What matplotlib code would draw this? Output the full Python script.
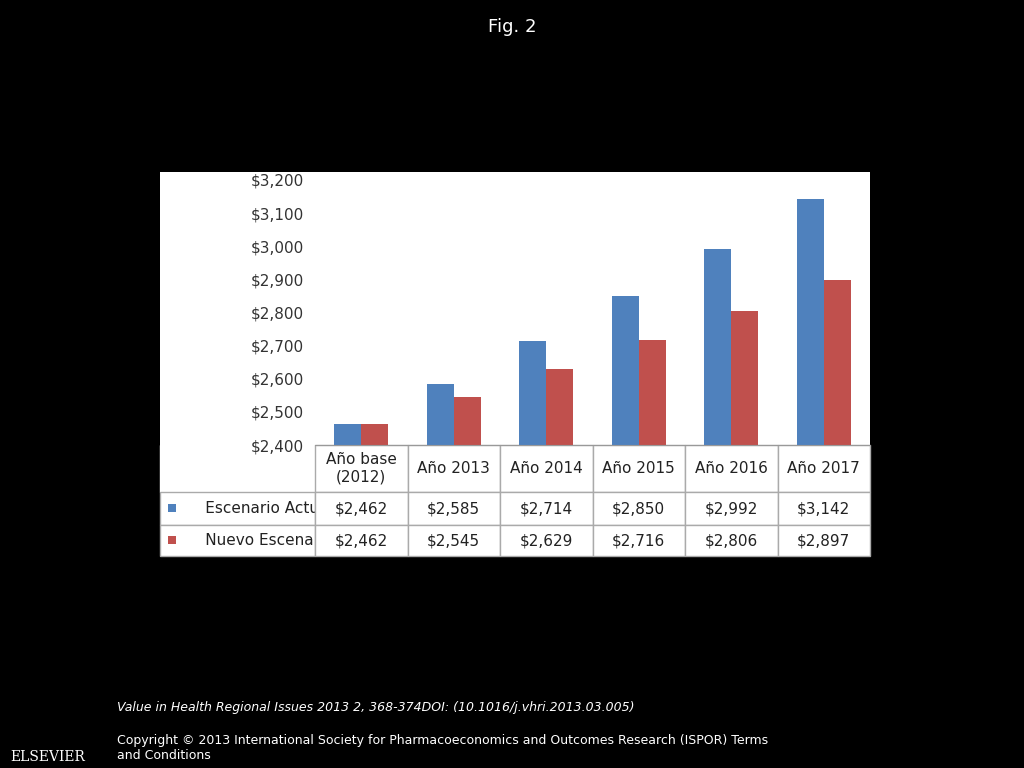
import matplotlib
matplotlib.use("Agg")
import matplotlib.pyplot as plt
from matplotlib.patches import Rectangle
import numpy as np

categories = ["Año base\n(2012)", "Año 2013", "Año 2014", "Año 2015", "Año 2016", "Año 2017"]
actual = [2462, 2585, 2714, 2850, 2992, 3142]
nuevo = [2462, 2545, 2629, 2716, 2806, 2897]
series_names = ["Escenario Actual", "Nuevo Escenario"]
colors = ["#4F81BD", "#C0504D"]

fig = plt.figure(figsize=(10.24, 7.68), dpi=100, facecolor="black")
W, H = 1024, 768
fig.patches.append(Rectangle((160/W, 1-556/H), 710/W, 384/H, transform=fig.transFigure,
                             facecolor="white", edgecolor="none", zorder=-10))
ax = fig.add_axes([315/W, 1-445/H, 555/W, 265/H])
ax.set_zorder(2)
ax.set_facecolor("white")
x = np.arange(len(categories))
w = 0.29
ax.bar(x - w/2, actual, w, color=colors[0])
ax.bar(x + w/2, nuevo, w, color=colors[1])
ax.set_ylim(2400, 3200)
ax.set_xlim(-0.5, len(categories)-0.5)
ax.set_yticks(range(2400, 3201, 100))
ax.set_yticklabels([f"${v:,}" for v in range(2400, 3201, 100)], fontsize=11, color="#333333")
ax.tick_params(axis="y", length=0, pad=8)
ax.set_xticks([])
for s in ["top", "right", "left"]:
    ax.spines[s].set_visible(False)
ax.spines["bottom"].set_color("#999999")

cell = [[f"${v:,}" for v in actual], [f"${v:,}" for v in nuevo]]
header = [[""] + categories]
rows = [["      " + series_names[0]] + cell[0], ["      " + series_names[1]] + cell[1]]
tbl = ax.table(cellText=header + rows, bbox=[-155/555, -111/265, 1+155/555, 111/265],
               cellLoc="center")
tbl.auto_set_font_size(False)
tbl.set_fontsize(11)
heights = [47/111, 33/111, 31/111]
colw = [155/710] + [92.5/710]*6
for (r, c), cl in tbl.get_celld().items():
    cl.set_edgecolor("#AAAAAA")
    cl.set_height(heights[r])
    cl.set_width(colw[c])
    cl.get_text().set_color("#222222")
    if r == 0 and c == 0:
        cl.set_edgecolor("white")
    if c == 0 and r > 0:
        cl._loc = "left"
        cl.get_text().set_ha("left")
for i, col in enumerate(colors):
    yc = [508, 540][i]
    fig.patches.append(Rectangle((168/W, 1-(yc+4)/H), 8/W, 8/H, transform=fig.transFigure,
                                 facecolor=col, edgecolor="none", zorder=5))

fig.text(0.5, 1-27/H, "Fig. 2", color="white", ha="center", va="center", fontsize=13)
fig.text(117/W, 1-708/H, "Value in Health Regional Issues 2013 2, 368-374DOI: (10.1016/j.vhri.2013.03.005)",
         color="white", fontsize=9, style="italic", va="center")
fig.text(117/W, 1-748/H, "Copyright © 2013 International Society for Pharmacoeconomics and Outcomes Research (ISPOR) Terms\nand Conditions",
         color="white", fontsize=9, va="center")
fig.text(48/W, 1-757/H, "ELSEVIER", color="white", fontsize=10, ha="center", va="center", family="DejaVu Serif")
fig.savefig("out.png", dpi=100, facecolor="black")
